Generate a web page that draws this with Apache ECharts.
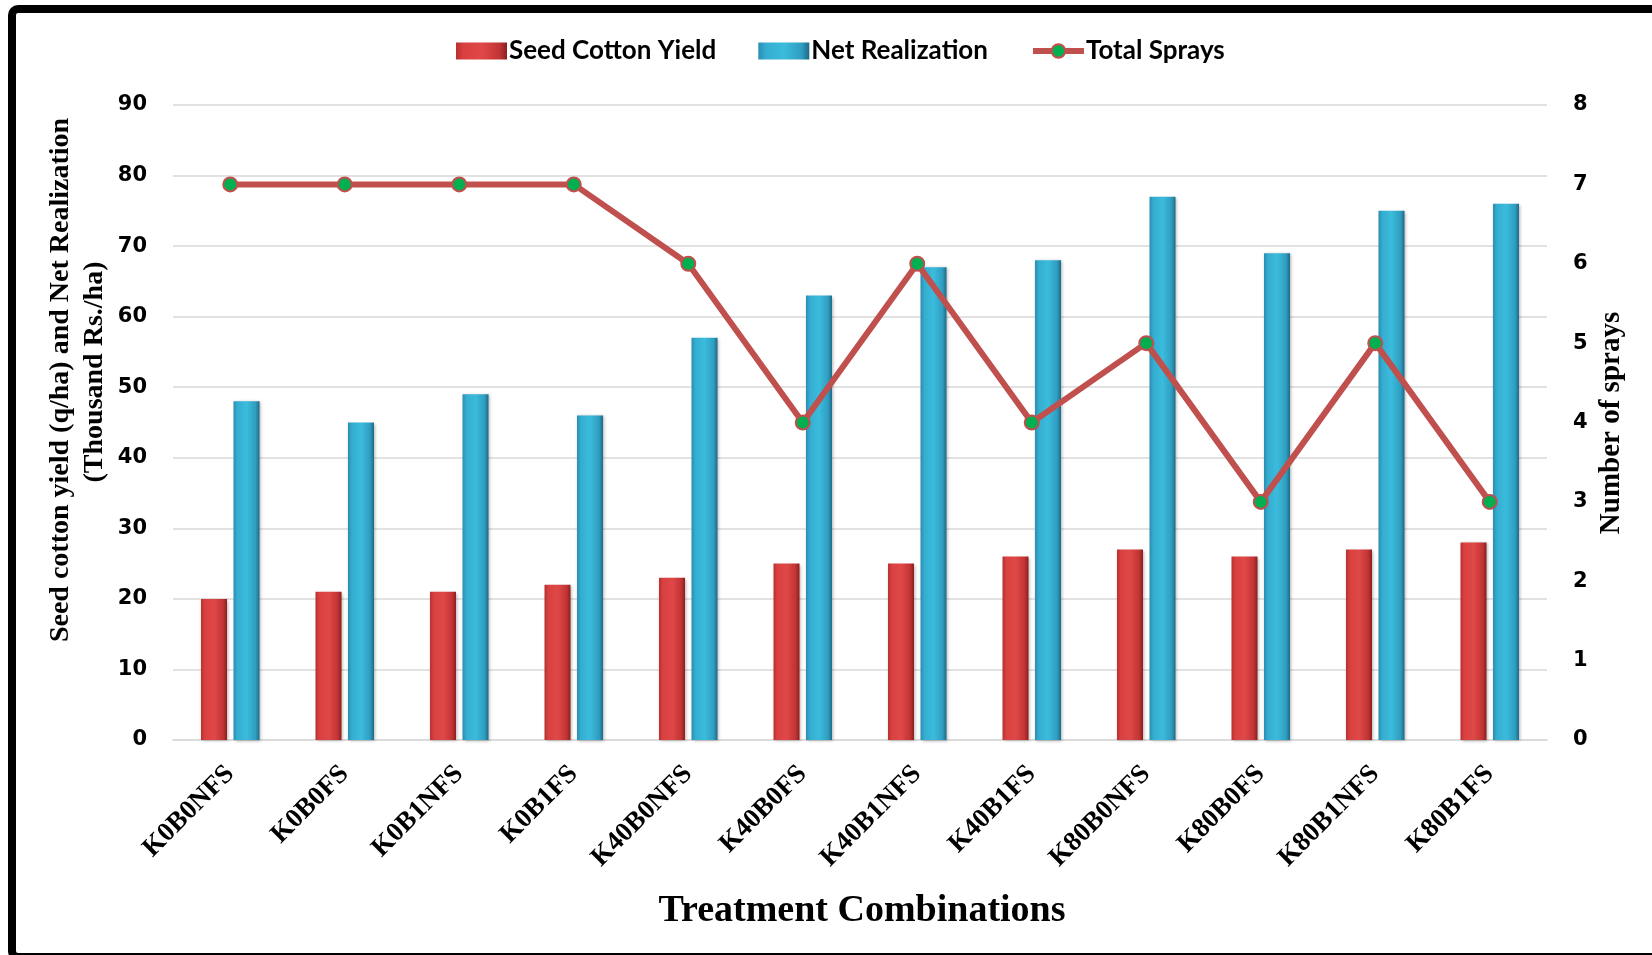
<!DOCTYPE html>
<html>
<head>
<meta charset="utf-8">
<script src="https://cdn.jsdelivr.net/npm/echarts@6/dist/echarts.min.js"></script>
<style>html,body{margin:0;padding:0;background:#fff}#c{width:1652px;height:955px}</style>
</head>
<body>
<div id="c"></div>
<script>
const categories = ['K0B0NFS','K0B0FS','K0B1NFS','K0B1FS','K40B0NFS','K40B0FS','K40B1NFS','K40B1FS','K80B0NFS','K80B0FS','K80B1NFS','K80B1FS'];
const seedCottonYield = [20,21,21,22,23,25,25,26,27,26,27,28];
const netRealization = [48,45,49,46,57,63,67,68,77,69,75,76];
const totalSprays = [7,7,7,7,6,4,6,4,5,3,5,3];
const leftTicks = {min:0, max:90, interval:10};
const rightTicks = {min:0, max:8, interval:1};

const chart = echarts.init(document.getElementById('c'), null, {renderer:'canvas'});
const redGrad = new echarts.graphic.LinearGradient(0,0,1,0,[
  {offset:0,color:'#b92f2f'},{offset:0.15,color:'#d94141'},{offset:0.5,color:'#e04848'},{offset:0.85,color:'#c23434'},{offset:1,color:'#8c1e1e'}]);
const blueGrad = new echarts.graphic.LinearGradient(0,0,1,0,[
  {offset:0,color:'#2a8db0'},{offset:0.15,color:'#34add0'},{offset:0.5,color:'#3bbcdc'},{offset:0.85,color:'#2f9dc0'},{offset:1,color:'#1d6a86'}]);
const serif = '"Liberation Serif","Times New Roman",serif';
const sans = '"DejaVu Sans",Verdana,sans-serif';

chart.setOption({
  animation:false,
  backgroundColor:'#fff',
  legend:{
    left:451, top:33, itemWidth:51, itemHeight:17, itemGap:42,
    textStyle:{fontFamily:'Lato', fontWeight:'bold', fontSize:26, color:'#000', padding:[0,0,0,-3]},
    data:[
      {name:'Seed Cotton Yield', icon:'rect'},
      {name:'Net Realization', icon:'rect'},
      {name:'Total Sprays', lineStyle:{width:6, color:'#c0504d'}}
    ]
  },
  grid:{left:173, right:105, top:105, bottom:215, containLabel:false},
  xAxis:{
    type:'category', data:categories,
    axisLine:{show:true, lineStyle:{color:'#d9d9d9', width:1.5}},
    axisTick:{show:false},
    axisLabel:{rotate:45, margin:30, fontFamily:serif, fontWeight:'bold', fontSize:27, color:'#000', interval:0}
  },
  yAxis:[
    {type:'value', min:leftTicks.min, max:leftTicks.max, interval:leftTicks.interval,
     axisLine:{show:false}, axisTick:{show:false},
     splitLine:{lineStyle:{color:'#d9d9d9', width:1.5}},
     axisLabel:{margin:26, fontFamily:sans, fontWeight:'bold', fontSize:21, color:'#000'}},
    {type:'value', min:rightTicks.min, max:rightTicks.max, interval:rightTicks.interval, position:'right',
     axisLine:{show:false}, axisTick:{show:false}, splitLine:{show:false},
     axisLabel:{margin:26, fontFamily:sans, fontWeight:'bold', fontSize:21, color:'#000'}}
  ],
  series:[
    {name:'Seed Cotton Yield', type:'bar', data:seedCottonYield, barWidth:26, barGap:'25%',
     itemStyle:{color:redGrad, shadowColor:'rgba(0,0,0,0.3)', shadowBlur:3, shadowOffsetX:1, shadowOffsetY:1}},
    {name:'Net Realization', type:'bar', data:netRealization, barWidth:26,
     itemStyle:{color:blueGrad, shadowColor:'rgba(0,0,0,0.3)', shadowBlur:3, shadowOffsetX:1, shadowOffsetY:1}},
    {name:'Total Sprays', type:'line', yAxisIndex:1, data:totalSprays,
     symbol:'circle', symbolSize:14, z:5,
     lineStyle:{color:'#c0504d', width:6},
     itemStyle:{color:'#00b050', borderColor:'#c0504d', borderWidth:2}}
  ],
  graphic:[
    {type:'rect', shape:{x:12, y:9, width:1700, height:948, r:6}, style:{fill:null, stroke:'#000', lineWidth:8}, silent:true, z:100},
    {type:'text', x:61, y:380, rotation:Math.PI/2, style:{text:'Seed cotton yield (q/ha) and Net Realization', font:'bold 28px '+serif, fill:'#000', align:'center', verticalAlign:'middle'}},
    {type:'text', x:95, y:372, rotation:Math.PI/2, style:{text:'(Thousand Rs./ha)', font:'bold 28px '+serif, fill:'#000', align:'center', verticalAlign:'middle'}},
    {type:'text', x:1612, y:423, rotation:Math.PI/2, style:{text:'Number of sprays', font:'bold 29px '+serif, fill:'#000', align:'center', verticalAlign:'middle'}},
    {type:'text', x:862, y:911, style:{text:'Treatment Combinations', font:'bold 38px '+serif, fill:'#000', align:'center', verticalAlign:'middle'}}
  ]
});
</script>
</body>
</html>
